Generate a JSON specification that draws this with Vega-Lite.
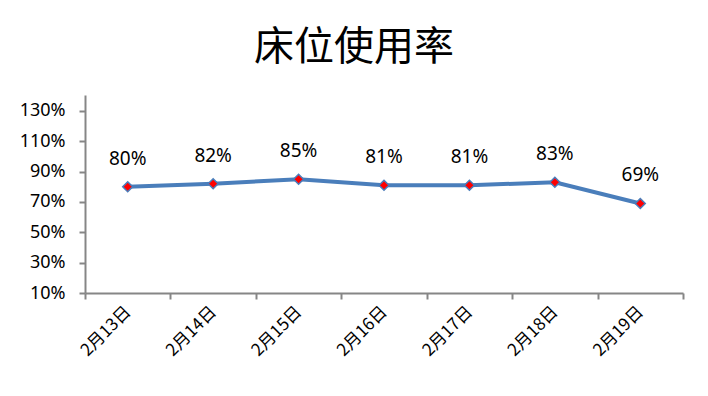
{
  "$schema": "https://vega.github.io/schema/vega-lite/v6.json",
  "autosize": "none",
  "width": 598,
  "height": 198,
  "padding": {"left": 85, "top": 95, "right": 25, "bottom": 103},
  "background": "white",
  "title": {
    "text": "床位使用率",
    "font": "Noto Sans CJK SC",
    "fontSize": 40,
    "fontWeight": "normal",
    "color": "black",
    "anchor": "middle",
    "dx": -30,
    "offset": 27
  },
  "config": {"view": {"stroke": null}},
  "data": {
    "values": [
      {"date": "2月13日", "rate": 0.80},
      {"date": "2月14日", "rate": 0.82},
      {"date": "2月15日", "rate": 0.85},
      {"date": "2月16日", "rate": 0.81},
      {"date": "2月17日", "rate": 0.81},
      {"date": "2月18日", "rate": 0.83},
      {"date": "2月19日", "rate": 0.69}
    ]
  },
  "encoding": {
    "x": {
      "field": "date",
      "type": "ordinal",
      "sort": null,
      "title": null,
      "scale": {"type": "band", "paddingInner": 0, "paddingOuter": 0},
      "axis": {
        "labelAngle": -45,
        "labelAlign": "right",
        "labelBaseline": "middle",
        "labelFont": "Noto Sans CJK SC",
        "labelFontSize": 17,
        "labelColor": "black",
        "labelPadding": 10,
        "domainColor": "#868686",
        "domainWidth": 2,
        "tickColor": "#868686",
        "tickWidth": 2,
        "tickSize": 6,
        "tickBand": "extent",
        "grid": false
      }
    },
    "y": {
      "field": "rate",
      "type": "quantitative",
      "title": null,
      "scale": {"domain": [0.1, 1.405], "nice": false, "zero": false},
      "axis": {
        "values": [0.1, 0.3, 0.5, 0.7, 0.9, 1.1, 1.3],
        "format": ".0%",
        "labelFont": "Noto Sans",
        "labelFontSize": 18,
        "labelColor": "black",
        "labelPadding": 14,
        "domainColor": "#868686",
        "domainWidth": 2,
        "tickColor": "#868686",
        "tickWidth": 2,
        "tickSize": 6,
        "grid": false
      }
    }
  },
  "layer": [
    {
      "mark": {"type": "line", "color": "#4a7ebb", "strokeWidth": 4}
    },
    {
      "mark": {"type": "point", "shape": "diamond", "filled": true, "fill": "#ff0000", "stroke": "#4a7ebb", "strokeWidth": 1.5, "size": 100, "opacity": 1}
    },
    {
      "mark": {"type": "text", "dy": -28, "font": "Noto Sans", "fontSize": 19, "color": "black"},
      "encoding": {"text": {"field": "rate", "format": ".0%"}}
    }
  ]
}
